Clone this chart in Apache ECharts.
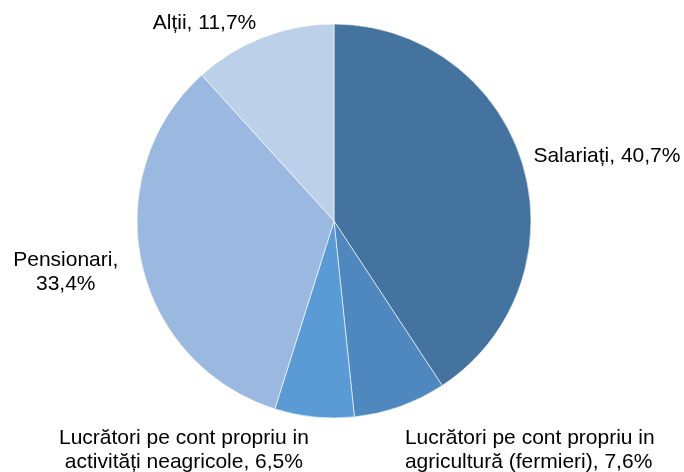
<!DOCTYPE html>
<html>
<head>
<meta charset="utf-8">
<script src="https://cdn.jsdelivr.net/npm/echarts@6/dist/echarts.min.js"></script>
<style>
html,body{margin:0;padding:0;background:#fff;}
#chart{width:684px;height:472px;}
</style>
</head>
<body>
<div id="chart"></div>
<script>
const categories = [
  'Salariați',
  'Lucrători pe cont propriu in\nagricultură (fermieri)',
  'Lucrători pe cont propriu in\nactivități neagricole',
  'Pensionari',
  'Alții'
];
const values = [40.7, 7.6, 6.5, 33.4, 11.7];
const separators = [', ', ', ', ', ', ',\n', ', '];
const colors = ['#44739f', '#4e88be', '#5b9bd5', '#9bb9e0', '#bdd0ea'];

// label placement tweaks: [mode, dx, dy]
// mode 'keep' keeps the library's alignment, 'centerFromRight' centers text at (right edge + dx)
const labelTweaks = [
  ['keep', -2, -6],
  ['keep', -3, 36],
  ['centerFromRight', -124.5, 25.5],
  ['centerFromRight', -63, 7.5],
  ['keep', 1, -7]
];

const chart = echarts.init(document.getElementById('chart'), null, {renderer: 'canvas'});
chart.setOption({
  animation: false,
  backgroundColor: '#ffffff',
  series: [{
    type: 'pie',
    center: [334, 221],
    radius: 197,
    startAngle: 90,
    clockwise: true,
    avoidLabelOverlap: false,
    data: categories.map((c, i) => ({name: c, value: values[i], itemStyle: {color: colors[i]}})),
    itemStyle: {borderColor: '#ffffff', borderWidth: 0.6},
    label: {
      show: true,
      position: 'outside',
      fontFamily: 'Liberation Sans, Arial, sans-serif',
      fontSize: 21,
      lineHeight: 24,
      color: '#000',
      formatter: p => p.name + separators[p.dataIndex] + String(p.value).replace('.', ',') + '%'
    },
    labelLine: {show: false, length: 8, length2: 0},
    labelLayout: function (params) {
      const t = labelTweaks[params.dataIndex];
      const r = params.labelRect;
      if (t[0] === 'centerFromRight') {
        return {
          x: r.x + r.width + t[1],
          y: r.y + r.height / 2 + t[2],
          align: 'center',
          verticalAlign: 'middle'
        };
      }
      return {dx: t[1], dy: t[2]};
    },
    emphasis: {disabled: true}
  }]
});
</script>
</body>
</html>
